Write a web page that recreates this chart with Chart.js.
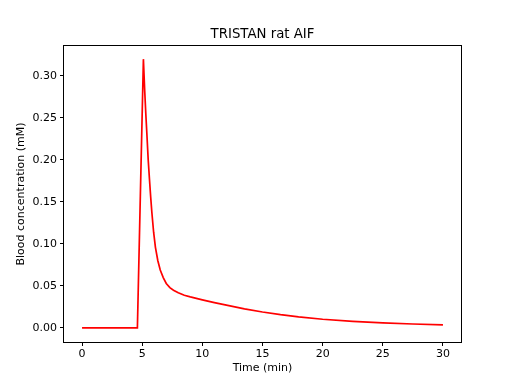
<!DOCTYPE html>
<html>
<head>
<meta charset="utf-8">
<script src="https://cdn.jsdelivr.net/npm/chart.js@4/dist/chart.umd.min.js"></script>
<style>
  html, body { margin: 0; padding: 0; background: #fff; }
  #wrap { width: 512px; height: 384px; }
</style>
</head>
<body>
<div id="wrap"><canvas id="aifChart" width="512" height="384"></canvas></div>
<script>
const times = [0, 4.6, 5.1, 5.2, 5.3, 5.4, 5.5, 5.6, 5.7, 5.8, 5.95, 6.1, 6.3, 6.5, 6.75, 7.0, 7.3, 7.6, 8.0, 8.5, 9.0, 10, 11, 12, 13.5, 15, 16.5, 18, 20, 22.5, 25, 27.5, 30];
const conc = [0, 0, 0.32, 0.285, 0.255, 0.228, 0.2, 0.178, 0.157, 0.138, 0.114, 0.096, 0.08, 0.069, 0.06, 0.053, 0.048, 0.045, 0.042, 0.039, 0.037, 0.0335, 0.0302, 0.0272, 0.0228, 0.019, 0.0158, 0.0132, 0.0104, 0.0079, 0.006, 0.0047, 0.0036];
const xTicks = [0, 5, 10, 15, 20, 25, 30];
const yTicks = [0, 0.05, 0.10, 0.15, 0.20, 0.25, 0.30];

const points = times.map((t, i) => ({x: t, y: conc[i]}));

// matplotlib-style box around the plot area
const boxPlugin = {
    id: 'box',
    afterDraw(chart) {
        const a = chart.chartArea;
        const c = chart.ctx;
        c.save();
        c.strokeStyle = '#000';
        c.lineWidth = 1;
        c.strokeRect(Math.round(a.left) - 0.5, Math.round(a.top) - 0.5, Math.round(a.right - a.left) + 1, Math.round(a.bottom - a.top) + 1);
        c.restore();
    }
};

const tickFont = { family: 'DejaVu Sans', size: 11 };

const ctx = document.getElementById('aifChart').getContext('2d');
const chart = new Chart(ctx, {
    type: 'scatter',
    data: {
        datasets: [{
            label: 'AIF',
            data: points,
            showLine: true,
            borderColor: '#ff0000',
            backgroundColor: '#ff0000',
            borderWidth: 1.7,
            pointRadius: 0,
            tension: 0
        }]
    },
    options: {
        responsive: false,
        animation: false,
        layout: { padding: { left: 13, right: 0, top: 0, bottom: 0 } },
        plugins: {
            legend: { display: false },
            tooltip: { enabled: false },
            title: {
                display: true,
                text: 'TRISTAN rat AIF',
                color: '#000',
                font: { family: 'DejaVu Sans', size: 13.3, weight: 'normal' },
                padding: { top: 27, bottom: 3 }
            }
        },
        scales: {
            x: {
                type: 'linear',
                min: -1.5,
                max: 31.5,
                afterBuildTicks: s => { s.ticks = xTicks.map(v => ({value: v})); },
                afterFit: s => { s.height = 42; },
                border: { display: false },
                grid: { display: true, drawOnChartArea: false, drawTicks: true, tickLength: 4, color: '#000' },
                ticks: {
                    color: '#000',
                    padding: 2,
                    maxRotation: 0,
                    font: tickFont,
                    callback: v => String(v)
                },
                title: {
                    display: true,
                    text: 'Time (min)',
                    color: '#000',
                    font: tickFont,
                    padding: { top: 0, bottom: 9 }
                }
            },
            y: {
                type: 'linear',
                min: -0.0167,
                max: 0.3357,
                afterBuildTicks: s => { s.ticks = yTicks.map(v => ({value: v})); },
                afterFit: s => { s.width = 51; },
                border: { display: false },
                grid: { display: true, drawOnChartArea: false, drawTicks: true, tickLength: 4, color: '#000' },
                ticks: {
                    color: '#000',
                    padding: 3,
                    font: tickFont,
                    callback: v => v.toFixed(2)
                },
                title: {
                    display: true,
                    text: 'Blood concentration (mM)',
                    color: '#000',
                    font: tickFont,
                    padding: { top: 2, bottom: 0 }
                }
            },
            // empty right-hand strip so the title centres over the plot
            spacer: {
                type: 'linear',
                position: 'right',
                display: true,
                afterFit: s => { s.width = 51; },
                border: { display: false },
                grid: { display: false, drawTicks: false },
                ticks: { display: false }
            }
        }
    },
    plugins: [boxPlugin]
});
</script>
</body>
</html>
